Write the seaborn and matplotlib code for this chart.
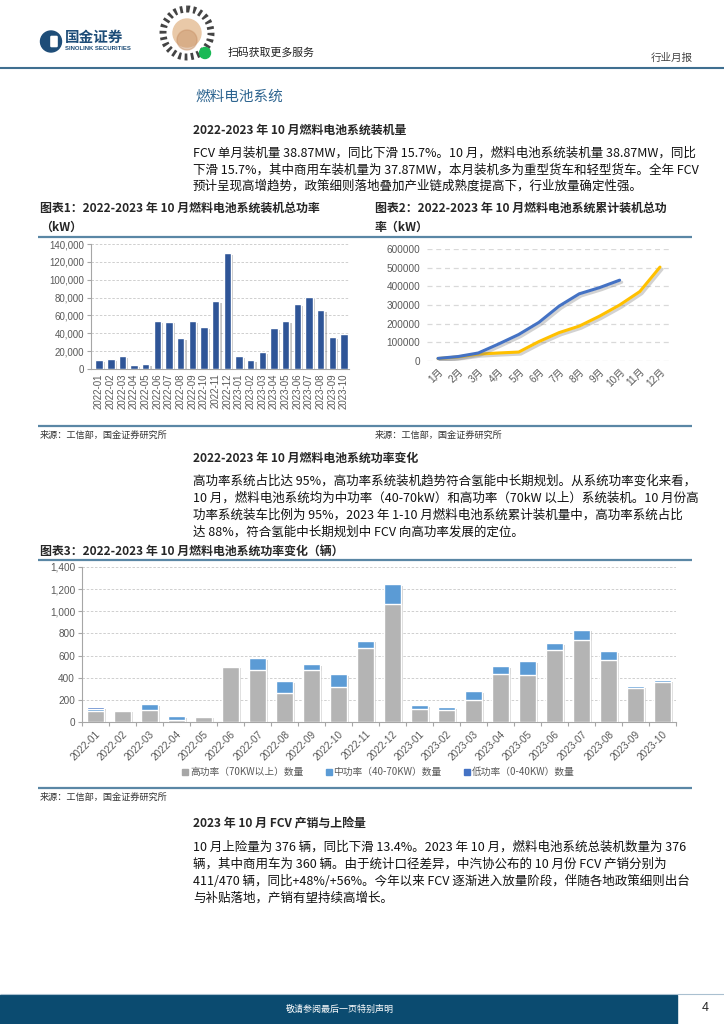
import numpy as np
import pandas as pd
import seaborn as sns
import matplotlib
matplotlib.use("Agg")
import matplotlib.pyplot as plt
from matplotlib import patheffects as pe
from matplotlib.patches import Circle, Rectangle, FancyBboxPatch
from matplotlib.lines import Line2D
from matplotlib.ticker import FuncFormatter, FixedLocator

W, H = 724, 1024

## data
months = ["2022-01", "2022-02", "2022-03", "2022-04", "2022-05", "2022-06",
          "2022-07", "2022-08", "2022-09", "2022-10", "2022-11", "2022-12",
          "2023-01", "2023-02", "2023-03", "2023-04", "2023-05", "2023-06",
          "2023-07", "2023-08", "2023-09", "2023-10"]
# 图表1 单月装机总功率 (kW)
power_kw = [10500, 11600, 14200, 4100, 5200, 53800, 53200, 34700, 53800, 47000,
            76500, 130000, 14200, 10500, 18600, 46300, 53300, 72800, 80500,
            66400, 36200, 38870]
# 图表2 累计装机 (kW)
cum_labels = ["1月", "2月", "3月", "4月", "5月", "6月", "7月", "8月", "9月",
              "10月", "11月", "12月"]
cum_2022 = [13000, 22000, 37000, 43000, 48000, 104000, 152000, 187000, 240000,
            300000, 372000, 503000]
cum_2023 = [14000, 24000, 43000, 91000, 142000, 207000, 294000, 360000, 393000,
            433000]
# 图表3 功率分布 (辆)
high_cnt = [103, 95, 105, 15, 45, 495, 472, 260, 472, 316, 670, 1065, 120, 105,
            196, 433, 424, 648, 745, 558, 310, 358]
mid_cnt = [17, 17, 57, 40, 8, 12, 108, 107, 50, 115, 62, 182, 33, 32, 82, 75,
           126, 63, 90, 82, 18, 18]
low_cnt = [13, 0, 0, 0, 0, 0, 0, 0, 0, 0, 8, 0, 0, 0, 0, 0, 0, 0, 0, 0, 0, 0]

legend2 = ["22年累计装机量（kW）", "23年累计装机量（kW）"]
legend3 = ["高功率（70KW以上）数量", "中功率（40-70KW）数量", "低功率（0-40KW）数量"]

para1 = ["FCV 单月装机量 38.87MW，同比下滑 15.7%。10 月，燃料电池系统装机量 38.87MW，同比",
         "下滑 15.7%，其中商用车装机量为 37.87MW，本月装机多为重型货车和轻型货车。全年 FCV",
         "预计呈现高增趋势，政策细则落地叠加产业链成熟度提高下，行业放量确定性强。"]
para2 = ["高功率系统占比达 95%，高功率系统装机趋势符合氢能中长期规划。从系统功率变化来看，",
         "10 月，燃料电池系统均为中功率（40-70kW）和高功率（70kW 以上）系统装机。10 月份高",
         "功率系统装车比例为 95%，2023 年 1-10 月燃料电池系统累计装机量中，高功率系统占比",
         "达 88%，符合氢能中长期规划中 FCV 向高功率发展的定位。"]
para3 = ["10 月上险量为 376 辆，同比下滑 13.4%。2023 年 10 月，燃料电池系统总装机数量为 376",
         "辆，其中商用车为 360 辆。由于统计口径差异，中汽协公布的 10 月份 FCV 产销分别为",
         "411/470 辆，同比+48%/+56%。今年以来 FCV 逐渐进入放量阶段，伴随各地政策细则出台",
         "与补贴落地，产销有望持续高增长。"]

## style
sns.set_theme(style="white")
plt.rcParams["font.family"] = ["Noto Sans CJK SC", "DejaVu Sans"]
plt.rcParams["axes.unicode_minus"] = False
NUM = ["Liberation Sans", "Noto Sans CJK SC"]
TICK = "#595959"
GRID = "#c8c8c8"
RULE = "#5a87a5"

fig = plt.figure(figsize=(W / 100, H / 100), dpi=100)
bg = fig.add_axes([0, 0, 1, 1])
bg.set_xlim(0, W)
bg.set_ylim(H, 0)
bg.axis("off")
bg.set_autoscale_on(False)


def txt(x, y, s, size=9, **kw):
    kw.setdefault("va", "center")
    kw.setdefault("ha", "left")
    return bg.text(x, y, s, fontsize=size, **kw)


def hline(y, x0, x1, color=RULE, lw=1.6):
    bg.plot([x0, x1], [y, y], color=color, lw=lw, solid_capstyle="butt")


def ax_px(l, t, r, b):
    return fig.add_axes([l / W, 1 - b / H, (r - l) / W, (b - t) / H])


def shadow(patches):
    for p in patches:
        p.set_path_effects([pe.SimplePatchShadow(offset=(1.6, -1.4), shadow_rgbFace="#7f7f7f", alpha=0.45),
                            pe.Normal()])


def num_font(ax):
    for lab in ax.get_xticklabels() + ax.get_yticklabels():
        lab.set_family(NUM)


## header
bg.add_patch(Circle((51, 41.5), 10.5, color="#1e4d78"))
bg.add_patch(FancyBboxPatch((51.5, 37), 5, 9, boxstyle="round,pad=0.6", color="white"))
txt(65, 37, "国金证券", size=10.5, weight="bold", color="#1e4d78")
txt(65, 48.5, "SINOLINK SECURITIES", size=4.3, weight="bold", color="#1e4d78", family=NUM)
bg.add_patch(Circle((187, 33), 24, fill=False, ec="#444444", lw=5, ls=(0, (0.4, 0.5))))
bg.add_patch(Circle((187, 33), 14, color="#e9c9a8"))
bg.add_patch(Circle((187, 40), 10, color="#c9946a", alpha=0.5))
bg.add_patch(Circle((205, 53), 5.5, color="#19b955"))
txt(228, 53, "扫码获取更多服务", size=7.8, color="#222222")
txt(693, 58, "行业月报", size=7.6, color="#444444", ha="right")
hline(68, 0, W, color="#3f6f90", lw=1.5)

txt(195, 97, "燃料电池系统", size=10.5, color="#2e6590")

## section 1
txt(193, 130, "2022-2023 年 10 月燃料电池系统装机量", size=8.6, weight="bold")
for i, line in enumerate(para1):
    txt(193, 153 + i * 16.7, line, size=9, color="#111111")

txt(40, 208, "图表1：2022-2023 年 10 月燃料电池系统装机总功率", size=8.6, weight="bold")
txt(40, 227, "（kW）", size=8.6, weight="bold")
txt(375, 208, "图表2：2022-2023 年 10 月燃料电池系统累计装机总功", size=8.6, weight="bold")
txt(375, 227, "率（kW）", size=8.6, weight="bold")
hline(237, 38, 692)
hline(426, 38, 692)
txt(40, 435, "来源：工信部，国金证券研究所", size=6.6, color="#333333")
txt(375, 435, "来源：工信部，国金证券研究所", size=6.6, color="#333333")

## chart 1
ax1 = ax_px(91, 244, 349, 369)
ax1.set_facecolor("none")
sns.barplot(x=months, y=power_kw, color="#2f5597", saturation=1, width=0.65, ax=ax1, zorder=3)
shadow(ax1.patches)
ax1.set_xlim(-0.69, 21.43)
ax1.set_ylim(0, 140000)
ax1.set_yticks(range(0, 140001, 20000))
ax1.yaxis.set_major_formatter(FuncFormatter(lambda v, p: f"{v:,.0f}"))
ax1.grid(axis="y", ls=(0, (3, 2)), color=GRID, lw=0.6)
ax1.set_axisbelow(True)
for s in ["top", "right"]:
    ax1.spines[s].set_visible(False)
for s in ["left", "bottom"]:
    ax1.spines[s].set_color("#a6a6a6")
    ax1.spines[s].set_linewidth(0.8)
ax1.tick_params(axis="x", labelrotation=90, labelsize=7, labelcolor=TICK, length=0, pad=3)
ax1.tick_params(axis="y", labelsize=7, labelcolor=TICK, color="#a6a6a6", length=3, width=0.8, left=True, pad=2)
ax1.set_xlabel("")
ax1.set_ylabel("")
num_font(ax1)

## chart 2
ax2 = ax_px(427, 249, 669, 361)
ax2.set_facecolor("none")
df2 = pd.concat([
    pd.DataFrame({"m": np.arange(len(cum_2022)), "v": cum_2022, "s": legend2[0]}),
    pd.DataFrame({"m": np.arange(len(cum_2023)), "v": cum_2023, "s": legend2[1]}),
])
sns.lineplot(data=df2, x="m", y="v", hue="s", palette=["#ffc000", "#4472c4"], lw=2.2,
             ax=ax2, legend=False, zorder=3)
for ln in ax2.lines:
    ln.set_path_effects([pe.SimpleLineShadow(offset=(1.5, -1.5), shadow_color="#7f7f7f", alpha=0.35), pe.Normal()])
ax2.set_xlim(-0.545, 11.446)
ax2.set_ylim(0, 600000)
ax2.set_yticks(range(0, 600001, 100000))
ax2.yaxis.set_major_formatter(FuncFormatter(lambda v, p: f"{v:.0f}"))
ax2.set_xticks(np.arange(len(cum_labels)))
ax2.set_xticklabels(cum_labels, rotation=45, ha="right", rotation_mode="anchor")
ax2.grid(axis="y", ls=(0, (4, 3)), color="#d9d9d9", lw=0.9)
ax2.set_axisbelow(True)
for s in ax2.spines.values():
    s.set_visible(False)
ax2.tick_params(axis="both", length=0, labelsize=7.2, labelcolor=TICK)
ax2.tick_params(axis="y", pad=5)
ax2.tick_params(axis="x", pad=4)
ax2.set_xlabel("")
ax2.set_ylabel("")
num_font(ax2)
h2 = [Line2D([], [], color=c, lw=2.2) for c in ["#ffc000", "#4472c4"]]
leg2 = bg.legend(h2, legend2, loc="center", bbox_to_anchor=(531, 407), bbox_transform=bg.transData,
                 ncol=2, frameon=False, fontsize=7, handlelength=2.6, handletextpad=0.5,
                 columnspacing=0.8, borderpad=0)
for t in leg2.get_texts():
    t.set_color(TICK)

## section 2
txt(193, 458, "2022-2023 年 10 月燃料电池系统功率变化", size=8.6, weight="bold")
for i, line in enumerate(para2):
    txt(193, 481 + i * 17, line, size=9, color="#111111")

txt(40, 551, "图表3：2022-2023 年 10 月燃料电池系统功率变化（辆）", size=8.6, weight="bold")
hline(560, 38, 692)
hline(788, 38, 692)
txt(40, 797, "来源：工信部，国金证券研究所", size=6.6, color="#333333")

## chart 3
ax3 = ax_px(82, 567, 676, 722)
ax3.set_facecolor("none")
df3 = pd.DataFrame({"month": months, "high": high_cnt, "mid": mid_cnt, "low": low_cnt})
df3["hm"] = df3["high"] + df3["mid"]
df3["total"] = df3["hm"] + df3["low"]
sns.barplot(data=df3, x="month", y="total", color="#4472c4", saturation=1, width=0.65, ax=ax3, zorder=3)
shadow(ax3.patches)
sns.barplot(data=df3, x="month", y="hm", color="#5b9bd5", saturation=1, width=0.65, ax=ax3, zorder=3)
sns.barplot(data=df3, x="month", y="high", color="#b4b4b4", saturation=1, width=0.65, ax=ax3, zorder=3)
ax3.set_xlim(-0.5, 21.5)
ax3.set_ylim(0, 1400)
ax3.set_yticks(range(0, 1401, 200))
ax3.yaxis.set_major_formatter(FuncFormatter(lambda v, p: f"{v:,.0f}"))
ax3.xaxis.set_minor_locator(FixedLocator(np.arange(-0.5, 22, 1)))
ax3.grid(axis="y", ls=(0, (3, 2)), color=GRID, lw=0.6)
ax3.set_axisbelow(True)
for s in ["top", "right"]:
    ax3.spines[s].set_visible(False)
for s in ["left", "bottom"]:
    ax3.spines[s].set_color("#a6a6a6")
    ax3.spines[s].set_linewidth(0.8)
ax3.set_xticks(np.arange(len(months)))
ax3.set_xticklabels(months, rotation=45, ha="right", rotation_mode="anchor")
ax3.tick_params(axis="x", which="major", length=0, labelsize=7.2, labelcolor=TICK, pad=5)
ax3.tick_params(axis="x", which="minor", length=3, color="#a6a6a6", width=0.8, bottom=True)
ax3.tick_params(axis="y", labelsize=7.2, labelcolor=TICK, color="#a6a6a6", length=3, width=0.8, left=True, pad=2)
ax3.set_xlabel("")
ax3.set_ylabel("")
num_font(ax3)
h3 = [Line2D([], [], color=c, marker="s", ls="", markersize=4.5) for c in ["#a6a6a6", "#5b9bd5", "#4472c4"]]
leg3 = bg.legend(h3, legend3, loc="center", bbox_to_anchor=(378, 772), bbox_transform=bg.transData,
                 ncol=3, frameon=False, fontsize=7, handlelength=0.8, handletextpad=0.1,
                 columnspacing=2.2, borderpad=0)
for t in leg3.get_texts():
    t.set_color(TICK)

## section 3
txt(193, 824, "2023 年 10 月 FCV 产销与上险量", size=8.6, weight="bold")
for i, line in enumerate(para3):
    txt(193, 847 + i * 17, line, size=9, color="#111111")

## footer
hline(993.5, 0, W, color="#aac0d0", lw=0.8)
bg.add_patch(Rectangle((0, 994.5), 677, 29, color="#0b4b70"))
txt(340, 1009, "敬请参阅最后一页特别声明", size=6.5, color="white", ha="center")
txt(705, 1008, "4", size=9, color="#222222", ha="center", family=NUM)

fig.savefig("out.png", dpi=100)
